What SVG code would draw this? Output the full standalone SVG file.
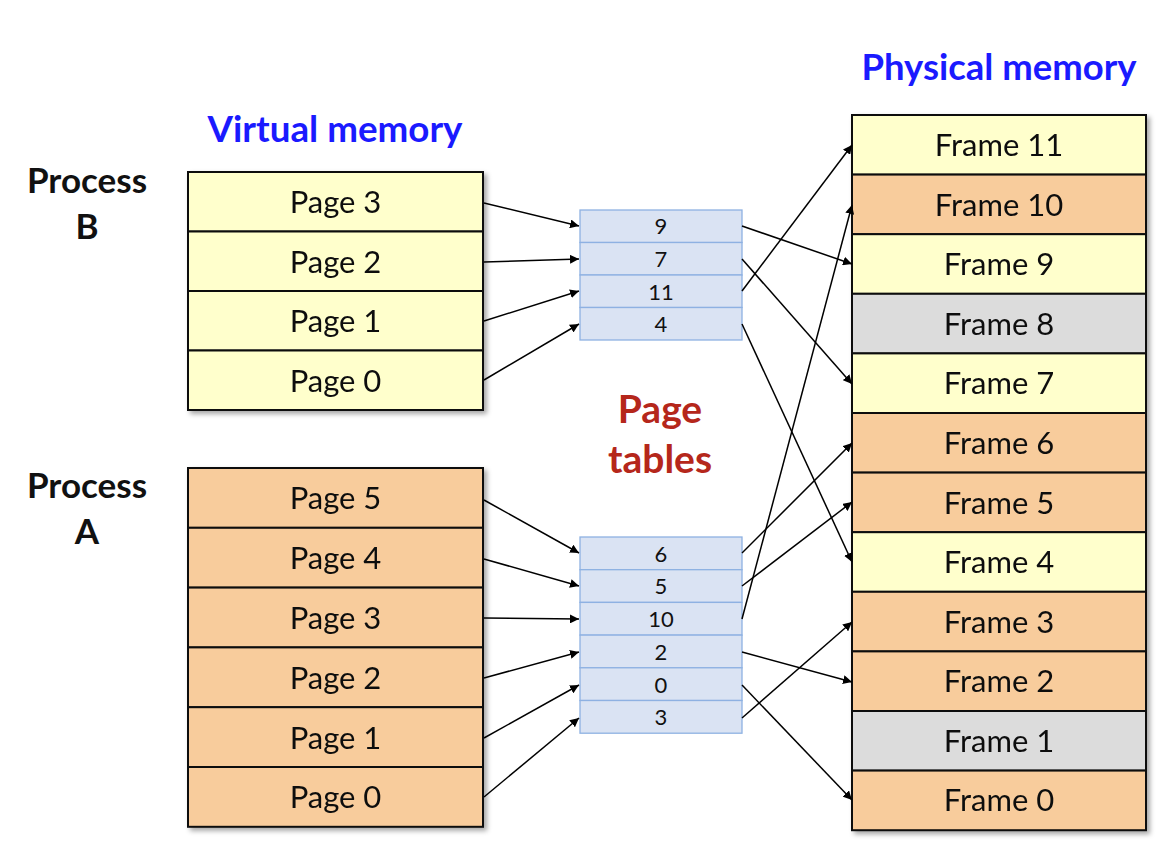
<svg xmlns="http://www.w3.org/2000/svg" width="1168" height="860" viewBox="0 0 1168 860">
<defs>
<style>
.y{fill:#ffffcc;stroke:#111;stroke-width:2}
.o{fill:#f8cc9c;stroke:#111;stroke-width:2}
.g{fill:#dcdcdc;stroke:#111;stroke-width:2}
.t{fill:#dae3f3;stroke:#8eb1e2;stroke-width:1.3}
.lbl{font-family:Lato,"Open Sans",sans-serif;font-size:31px;fill:#111;text-anchor:middle}
.tl{font-family:Lato,"Open Sans",sans-serif;font-size:22px;fill:#111;text-anchor:middle}
.h{font-family:Lato,"Open Sans",sans-serif;font-weight:bold;font-size:36px;fill:#1a1aff;text-anchor:middle}
.p{font-family:Lato,"Open Sans",sans-serif;font-weight:bold;font-size:35px;fill:#111;text-anchor:middle}
.r{font-family:Lato,"Open Sans",sans-serif;font-weight:bold;font-size:39px;fill:#b5271b;text-anchor:middle}
.c{stroke:#000;stroke-width:1.5;fill:none;marker-end:url(#a)}
</style>
<marker id="a" viewBox="0 0 10 10" refX="10" refY="5" markerWidth="9" markerHeight="9" markerUnits="userSpaceOnUse" orient="auto"><path d="M0,0 L10,5 L0,10 z" fill="#000"/></marker>
<filter id="s" x="-5%" y="-5%" width="112%" height="112%"><feDropShadow dx="3" dy="3" stdDeviation="2.5" flood-color="#000" flood-opacity="0.35"/></filter>
</defs>
<rect width="1168" height="860" fill="#fff"/>
<text class="h" x="335" y="142" textLength="255" lengthAdjust="spacingAndGlyphs">Virtual memory</text>
<text class="h" x="999" y="80" textLength="275" lengthAdjust="spacingAndGlyphs">Physical memory</text>
<g id="procB-label"><text class="p" x="87" y="193">Process</text><text class="p" x="87" y="239">B</text></g>
<g id="procA-label"><text class="p" x="87" y="498">Process</text><text class="p" x="87" y="544">A</text></g>
<g id="pt-label"><text class="r" x="660" y="423">Page</text><text class="r" x="660" y="473">tables</text></g>
<g id="vmB" filter="url(#s)">
<rect class="y" x="188" y="172" width="295" height="59.5"/><text class="lbl" x="335.5" y="213">Page 3</text>
<rect class="y" x="188" y="231.5" width="295" height="59.5"/><text class="lbl" x="335.5" y="272.5">Page 2</text>
<rect class="y" x="188" y="291" width="295" height="59.5"/><text class="lbl" x="335.5" y="332">Page 1</text>
<rect class="y" x="188" y="350.5" width="295" height="59.5"/><text class="lbl" x="335.5" y="391.5">Page 0</text>
</g>
<g id="vmA" filter="url(#s)">
<rect class="o" x="188" y="468" width="295" height="59.8"/><text class="lbl" x="335.5" y="509">Page 5</text>
<rect class="o" x="188" y="527.8" width="295" height="59.8"/><text class="lbl" x="335.5" y="569">Page 4</text>
<rect class="o" x="188" y="587.6" width="295" height="59.8"/><text class="lbl" x="335.5" y="629">Page 3</text>
<rect class="o" x="188" y="647.4" width="295" height="59.8"/><text class="lbl" x="335.5" y="688.5">Page 2</text>
<rect class="o" x="188" y="707.2" width="295" height="59.8"/><text class="lbl" x="335.5" y="748.5">Page 1</text>
<rect class="o" x="188" y="767" width="295" height="59.8"/><text class="lbl" x="335.5" y="808">Page 0</text>
</g>
<g id="ptB">
<rect class="t" x="580" y="210" width="162" height="32.5"/><text class="tl" x="661" y="234">9</text>
<rect class="t" x="580" y="242.5" width="162" height="32.5"/><text class="tl" x="661" y="267">7</text>
<rect class="t" x="580" y="275" width="162" height="32.5"/><text class="tl" x="661" y="299.5">11</text>
<rect class="t" x="580" y="307.5" width="162" height="32.5"/><text class="tl" x="661" y="332">4</text>
</g>
<g id="ptA">
<rect class="t" x="580" y="537" width="162" height="32.7"/><text class="tl" x="661" y="561.5">6</text>
<rect class="t" x="580" y="569.7" width="162" height="32.7"/><text class="tl" x="661" y="594">5</text>
<rect class="t" x="580" y="602.4" width="162" height="32.7"/><text class="tl" x="661" y="627">10</text>
<rect class="t" x="580" y="635.1" width="162" height="32.7"/><text class="tl" x="661" y="659.5">2</text>
<rect class="t" x="580" y="667.8" width="162" height="32.7"/><text class="tl" x="661" y="692.5">0</text>
<rect class="t" x="580" y="700.5" width="162" height="32.7"/><text class="tl" x="661" y="725">3</text>
</g>
<g id="phys" filter="url(#s)">
<rect class="y" x="852" y="115" width="294" height="59.6"/><text class="lbl" x="999" y="156">Frame 11</text>
<rect class="o" x="852" y="174.6" width="294" height="59.6"/><text class="lbl" x="999" y="215.5">Frame 10</text>
<rect class="y" x="852" y="234.2" width="294" height="59.6"/><text class="lbl" x="999" y="275">Frame 9</text>
<rect class="g" x="852" y="293.8" width="294" height="59.6"/><text class="lbl" x="999" y="334.5">Frame 8</text>
<rect class="y" x="852" y="353.4" width="294" height="59.6"/><text class="lbl" x="999" y="394">Frame 7</text>
<rect class="o" x="852" y="413" width="294" height="59.6"/><text class="lbl" x="999" y="454">Frame 6</text>
<rect class="o" x="852" y="472.6" width="294" height="59.6"/><text class="lbl" x="999" y="513.5">Frame 5</text>
<rect class="y" x="852" y="532.2" width="294" height="59.6"/><text class="lbl" x="999" y="573">Frame 4</text>
<rect class="o" x="852" y="591.8" width="294" height="59.6"/><text class="lbl" x="999" y="632.5">Frame 3</text>
<rect class="o" x="852" y="651.4" width="294" height="59.6"/><text class="lbl" x="999" y="692">Frame 2</text>
<rect class="g" x="852" y="711" width="294" height="59.6"/><text class="lbl" x="999" y="752">Frame 1</text>
<rect class="o" x="852" y="770.6" width="294" height="59.6"/><text class="lbl" x="999" y="811">Frame 0</text>
</g>
<g id="connectors">
<line class="c" x1="484" y1="203" x2="579" y2="226"/>
<line class="c" x1="484" y1="262" x2="579" y2="259"/>
<line class="c" x1="484" y1="321" x2="579" y2="291"/>
<line class="c" x1="484" y1="380" x2="579" y2="324"/>
<line class="c" x1="484" y1="500" x2="579" y2="553"/>
<line class="c" x1="484" y1="559" x2="579" y2="586"/>
<line class="c" x1="484" y1="618" x2="579" y2="619"/>
<line class="c" x1="484" y1="678" x2="579" y2="652"/>
<line class="c" x1="484" y1="738" x2="579" y2="685"/>
<line class="c" x1="484" y1="797" x2="579" y2="718"/>
<line class="c" x1="742" y1="226" x2="852" y2="264"/>
<line class="c" x1="742" y1="259" x2="852" y2="384"/>
<line class="c" x1="742" y1="291" x2="852" y2="145"/>
<line class="c" x1="742" y1="324" x2="852" y2="562"/>
<line class="c" x1="742" y1="553" x2="852" y2="443"/>
<line class="c" x1="742" y1="586" x2="852" y2="502"/>
<line class="c" x1="742" y1="619" x2="852" y2="205"/>
<line class="c" x1="742" y1="652" x2="852" y2="682"/>
<line class="c" x1="742" y1="685" x2="852" y2="800"/>
<line class="c" x1="742" y1="718" x2="852" y2="622"/>
</g>
</svg>
